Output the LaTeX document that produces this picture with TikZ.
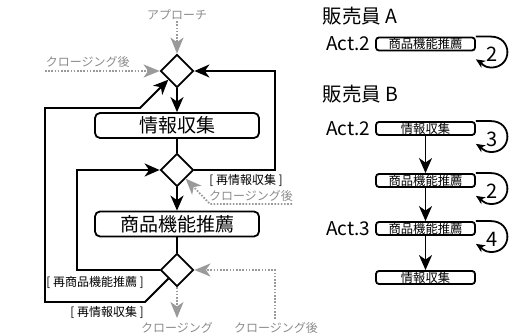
\documentclass[tikz,border=0pt]{standalone}
\usepackage{fontspec}
\setmainfont{Noto Sans CJK JP}
\usetikzlibrary{arrows.meta,shapes.geometric,calc}
\definecolor{gtext}{HTML}{8C8C8C}
\definecolor{gline}{HTML}{9A9A9A}
\newcommand\mkloop[2]{%
  \draw[looparr] (#1.north east) -- ($(#1.north east)+(15,0)$)
    .. controls ($(#1.north east)+(37,0)$) and ($(#1.north east)+(37,31)$) .. ($(#1.north east)+(15,31)$)
    .. controls ($(#1.north east)+(8,31)$) and ($(#1.north east)+(5,26)$) .. ($(#1.south east)+(0,8)$);
  \node[numfont] at ($(#1.north east)+(16,18)$) {#2};}
\begin{document}
\begin{tikzpicture}[x=1pt,y=-1pt,line width=1.8pt,
  bigbox/.style={draw,rounded corners=5pt,minimum width=164pt,minimum height=25pt,inner sep=0pt,font=\fontsize{19}{19}\selectfont},
  smallbox/.style={draw,rounded corners=3pt,minimum width=99pt,minimum height=13pt,inner sep=0pt,font=\fontsize{12.3}{12.3}\selectfont},
  dia/.style={draw,diamond,aspect=1,minimum width=33pt,minimum height=33pt,inner sep=0pt},
  glabel/.style={text=gtext,font=\fontsize{12}{12}\selectfont,inner sep=0pt},
  blabel/.style={font=\fontsize{12}{12}\selectfont,inner sep=0pt},
  hfont/.style={font=\fontsize{19.5}{19.5}\selectfont,inner sep=0pt},
  actfont/.style={font=\fontsize{19}{19}\selectfont,inner sep=0pt},
  numfont/.style={font=\fontsize{20}{20}\selectfont,inner sep=0pt},
  arr/.style={-{Stealth[length=15pt,width=13pt,inset=4.5pt]}},
  garr/.style={gline,dash pattern=on 1.6pt off 1.6pt,-{Stealth[length=16pt,width=13pt,inset=4.5pt]}},
  looparr/.style={-{Stealth[length=9pt,width=8pt,inset=2.5pt]}}]
\useasboundingbox (0,0) rectangle (517,336);
% left flow
\node[dia] (d1) at (177,71) {};
\node[bigbox] (c1) at (177,125.5) {情報収集};
\node[dia] (d2) at (177,170) {};
\node[bigbox] (c2) at (177,224) {商品機能推薦};
\node[dia] (d3) at (177,270) {};
\draw[arr] (d1.south) -- (c1.north);
\draw (c1.south) -- (d2.north);
\draw[arr] (d2.south) -- (c2.north);
\draw (c2.south) -- (d3.north);
\coordinate (r1) at (275,170);
\draw[arr] (d2.east) -- (r1) |- (d1.east);
\coordinate (r2) at (77,270);
\draw[arr] (d3.west) -- (r2) |- (d2.west);
\coordinate (k1) at (145,302);
\coordinate (k2) at (45,302);
\coordinate (k3) at (45,108);
\coordinate (k4) at (140,108);
\draw[arr] (d3.south west) -- (k1) -- (k2) -- (k3) -- (k4) -- (d1.south west);
\node[blabel] (l1) at (246,180) {[ 再情報収集 ]};
\node[blabel] (l2) at (95,282) {[ 再商品機能推薦 ]};
\node[blabel] (l3) at (107,312) {[ 再情報収集 ]};
% gray
\node[glabel] (ap) at (177,15) {アプローチ};
\draw[garr] (ap.south) -- (d1.north);
\node[glabel,anchor=south west] (g1) at (45,68) {クロージング後};
\draw[garr] (g1.south west |- d1.west) -- (d1.west);
\node[glabel] (g2) at (251,196) {クロージング後};
\coordinate (g2e) at (292,204);
\coordinate (g2k) at (210,204);
\draw[garr] (g2e) -- (g2k) -- (d2.south east);
\node[glabel] (g3) at (177,328) {クロージング};
\coordinate (g3t) at (177,318);
\draw[garr] (d3.south) -- (g3t);
\node[glabel] (g4) at (276,328) {クロージング後};
\coordinate (g4t) at (275,319);
\draw[garr] (g4t) |- (d3.east);
% right side
\node[hfont,anchor=west] (sA) at (322,16) {販売員 A};
\node[smallbox] (a1) at (425.5,44) {商品機能推薦};
\node[actfont,anchor=east] (act1) at ([xshift=-4pt]a1.west) {Act.2};
\mkloop{a1}{2}
\node[hfont,anchor=west] (sB) at (322,94.5) {販売員 B};
\node[smallbox] (b1) at (425.5,128.5) {情報収集};
\node[smallbox] (b2) at (425.5,180.5) {商品機能推薦};
\node[smallbox] (b3) at (425.5,228.5) {商品機能推薦};
\node[smallbox] (b4) at (425.5,277.5) {情報収集};
\node[actfont,anchor=east] (act2) at ([xshift=-4pt]b1.west) {Act.2};
\node[actfont,anchor=east] (act3) at ([xshift=-4pt]b3.west) {Act.3};
\draw[arr] (b1.south) -- (b2.north);
\draw[arr] (b2.south) -- (b3.north);
\draw[arr] (b3.south) -- (b4.north);
\mkloop{b1}{3}
\mkloop{b2}{2}
\mkloop{b3}{4}
\end{tikzpicture}
\end{document}
